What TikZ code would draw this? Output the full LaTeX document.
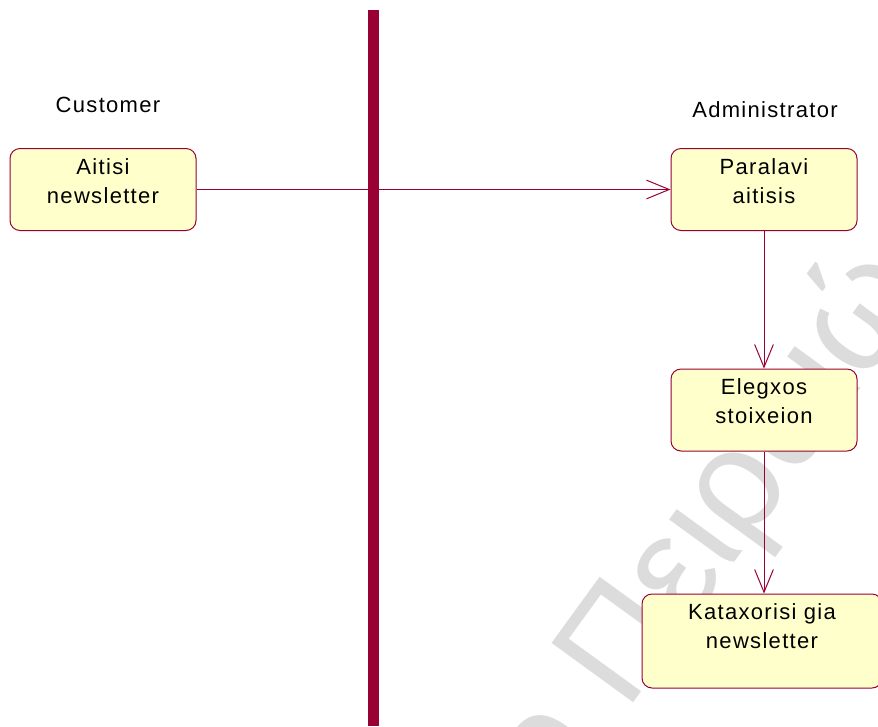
\documentclass[tikz,border=0pt]{standalone}
\usepackage{fontspec}
\setmainfont{Liberation Sans}[LetterSpace=6]
\newfontfamily\wmfont{Liberation Sans}
\usetikzlibrary{arrows.meta}
\definecolor{lane}{RGB}{153,0,51}
\definecolor{actfill}{RGB}{255,255,204}
\definecolor{wmark}{RGB}{220,220,220}
% activity text: fixed-size box with the lines set from its top
\newcommand{\acttext}[3]{\parbox[c][#2][t]{#1}{\centering\vspace*{7.5pt}#3}}
\begin{document}
\begin{tikzpicture}[x=0.75pt,y=-0.75pt,
  activity/.style={draw=lane, fill=actfill, line width=0.75pt,
    rounded corners=7.5pt, inner sep=0pt,
    font=\fontsize{16.5}{21.75}\selectfont},
  lanelabel/.style={inner sep=0pt, font=\fontsize{16.5}{20}\selectfont},
  flow/.style={draw=lane, line width=0.75pt,
    -{Straight Barb[length=17pt,width=14pt]}},
  watermark/.style={text=wmark, inner sep=0pt, anchor=base west,
    rotate=54, font=\wmfont\fontsize{110}{120}\selectfont}]
\useasboundingbox (0,0) rectangle (878,726);
\clip (0,0) rectangle (878,726);

% background watermark
\node[watermark] (wm) at (626,712) {\llap{Πανεπιστήμιο }Πειραιώς};

% swimlane divider
\fill[lane] (368,10) rectangle (379,726);

% swimlane titles
\node[lanelabel] (customer) at (108,105) {Customer};
\node[lanelabel] (admin) at (765,110) {Administrator};

% activities
\node[activity] (aitisi) at (103,189.5)
  {\acttext{139.5pt}{61.5pt}{Aitisi\\newsletter}};
\node[activity] (paralavi) at (764,189.5)
  {\acttext{139.5pt}{61.5pt}{Paralavi\\aitisis}};
\node[activity] (elegxos) at (764,410)
  {\acttext{139.5pt}{61.5pt}{Elegxos\\stoixeion}};
\node[activity] (kataxorisi) at (762,641)
  {\acttext{180pt}{70.5pt}{Kataxorisi gia\\newsletter}};

% transitions
\draw[flow] (aitisi.east) -- (paralavi.west);
\draw[flow] (paralavi.south) -- (elegxos.north);
\draw[flow] (elegxos.south) -- (elegxos.south |- kataxorisi.north);
\end{tikzpicture}
\end{document}
